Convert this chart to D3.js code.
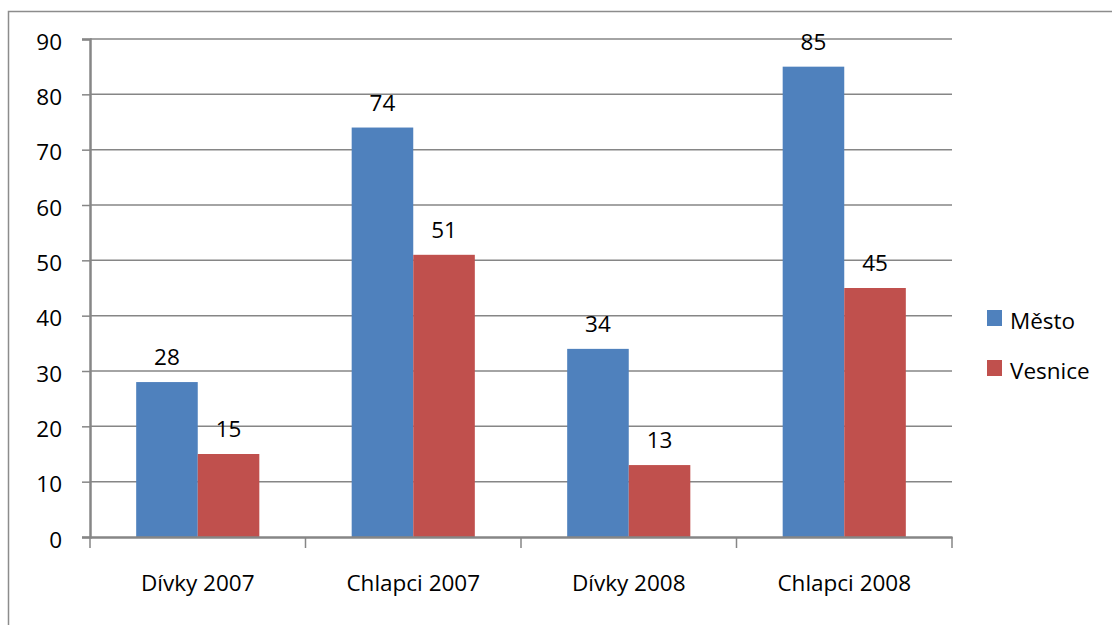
<!DOCTYPE html>
<html>
<head>
<meta charset="utf-8">
<script src="https://cdn.jsdelivr.net/npm/d3@7"></script>
<style>
  body { margin: 0; background: #fff; }
</style>
</head>
<body>
<div id="chart"></div>
<script>
// Data
const categories = ['Dívky 2007', 'Chlapci 2007', 'Dívky 2008', 'Chlapci 2008'];
const seriesNames = ['Město', 'Vesnice'];
const mestoValues = [28, 74, 34, 85];
const vesniceValues = [15, 51, 13, 45];
const yTicks = [0, 10, 20, 30, 40, 50, 60, 70, 80, 90];

const colors = { 'Město': '#4F81BD', 'Vesnice': '#C0504D' };
const font = "'Open Sans', sans-serif";
const fontSize = '22.5px';

function drawChart() {
  const W = 1112, H = 625;
  const plot = { left: 90, right: 952, top: 39, bottom: 537 };

  const svg = d3.select('#chart').append('svg')
    .attr('width', W).attr('height', H)
    .style('font-family', font);

  // outer chart border (right/bottom edges run past the picture)
  svg.append('rect')
    .attr('x', 8.5).attr('y', 11.5)
    .attr('width', W).attr('height', H)
    .attr('fill', 'none').attr('stroke', '#8c8c8c').attr('stroke-width', 1.5);

  const x = d3.scaleBand()
    .domain(categories)
    .range([plot.left, plot.right])
    .paddingInner(0).paddingOuter(0);

  const x1 = d3.scaleBand()
    .domain(seriesNames)
    .range([0, x.bandwidth()])
    .paddingInner(0).paddingOuter(0.75);

  const y = d3.scaleLinear()
    .domain([0, 90])
    .range([plot.bottom, plot.top]);

  // gridlines
  svg.append('g')
    .selectAll('line')
    .data(yTicks.filter(d => d > 0))
    .join('line')
    .attr('x1', plot.left).attr('x2', plot.right)
    .attr('y1', d => y(d)).attr('y2', d => y(d))
    .attr('stroke', '#868686').attr('stroke-width', 1.5);

  // bars
  const rows = categories.map((c, i) => ({
    cat: c,
    vals: [
      { name: 'Město', v: mestoValues[i] },
      { name: 'Vesnice', v: vesniceValues[i] }
    ]
  }));

  const groups = svg.append('g')
    .selectAll('g')
    .data(rows)
    .join('g')
    .attr('transform', d => `translate(${x(d.cat)},0)`);

  groups.selectAll('rect')
    .data(d => d.vals)
    .join('rect')
    .attr('x', d => x1(d.name))
    .attr('y', d => y(d.v))
    .attr('width', x1.bandwidth())
    .attr('height', d => y(0) - y(d.v))
    .attr('fill', d => colors[d.name]);

  groups.selectAll('text')
    .data(d => d.vals)
    .join('text')
    .attr('x', d => x1(d.name) + x1.bandwidth() / 2)
    .attr('y', d => y(d.v) - 17)
    .attr('text-anchor', 'middle')
    .attr('font-size', fontSize)
    .attr('fill', '#000')
    .text(d => d.v);

  // Y axis
  const yAxis = svg.append('g')
    .attr('transform', `translate(${plot.left},0)`)
    .call(d3.axisLeft(y).tickValues(yTicks).tickSize(8).tickPadding(20));
  yAxis.select('.domain').attr('stroke', '#868686').attr('stroke-width', 2.5);
  yAxis.selectAll('.tick line').attr('stroke', '#868686').attr('stroke-width', 1.5);
  yAxis.selectAll('text')
    .attr('font-size', fontSize).attr('fill', '#000')
    .attr('font-family', font).attr('dy', '0.45em');

  // X axis
  const xAxis = svg.append('g')
    .attr('transform', `translate(0,${plot.bottom})`)
    .call(d3.axisBottom(x).tickSize(0).tickSizeOuter(0).tickPadding(38));
  xAxis.select('.domain').attr('stroke', '#868686').attr('stroke-width', 2.5);
  xAxis.selectAll('text')
    .attr('font-size', fontSize).attr('fill', '#000')
    .attr('font-family', font);

  // category boundary ticks
  const bounds = categories.map(c => x(c)).concat([plot.right]);
  svg.append('g')
    .selectAll('line')
    .data(bounds)
    .join('line')
    .attr('x1', d => d).attr('x2', d => d)
    .attr('y1', plot.bottom).attr('y2', plot.bottom + 11)
    .attr('stroke', '#868686').attr('stroke-width', 1.5);

  // legend
  const legend = svg.append('g')
    .selectAll('g')
    .data(seriesNames)
    .join('g')
    .attr('transform', (d, i) => `translate(987,${310 + i * 50})`);
  legend.append('rect')
    .attr('width', 15).attr('height', 16)
    .attr('fill', d => colors[d]);
  legend.append('text')
    .attr('x', 23).attr('y', 19)
    .attr('font-size', fontSize)
    .attr('fill', '#000')
    .text(d => d);
}

drawChart();
</script>
</body>
</html>
